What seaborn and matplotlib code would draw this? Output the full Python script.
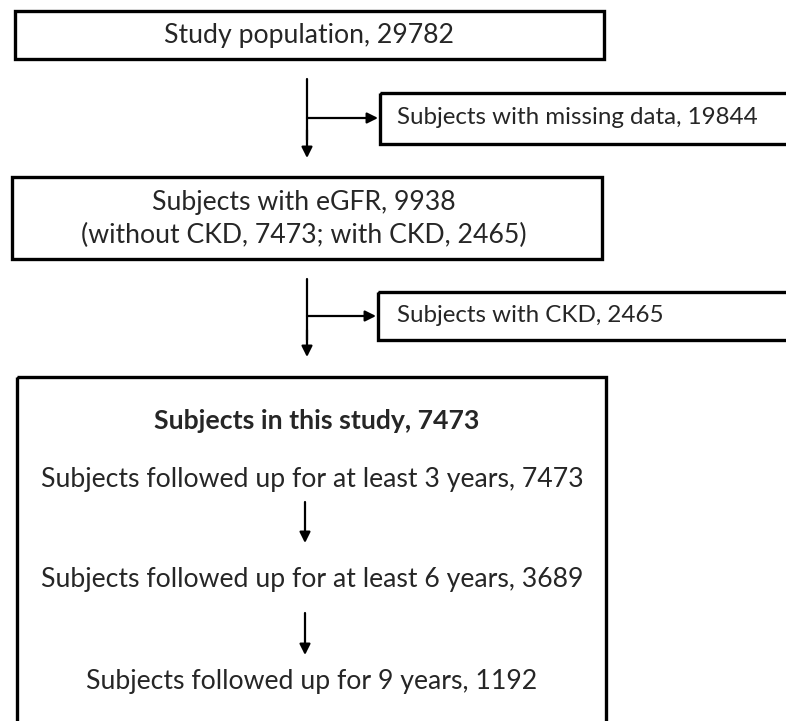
import matplotlib
matplotlib.use("Agg")
import matplotlib.pyplot as plt
from matplotlib.patches import Rectangle
import seaborn as sns

# flow chart content
main_steps = ["Study population, 29782",
              "Subjects with eGFR, 9938\n(without CKD, 7473; with CKD, 2465)"]
excluded = ["Subjects with missing data, 19844",
            "Subjects with CKD, 2465"]
final_title = "Subjects in this study, 7473"
follow_up = ["Subjects followed up for at least 3 years, 7473",
             "Subjects followed up for at least 6 years, 3689",
             "Subjects followed up for 9 years, 1192"]

sns.set_style("white")
plt.rcParams["font.family"] = ["Lato", "DejaVu Sans"]

FS = 19.2
FS_SIDE = 17.4
BOX_LW = 2.4
ARR = dict(arrowstyle="-|>", lw=1.6, color="black", mutation_scale=16,
           shrinkA=0, shrinkB=0)

fig = plt.figure(figsize=(7.86, 7.21), dpi=100)
ax = fig.add_axes([0, 0, 1, 1])
ax.set_xlim(0, 786)
ax.set_ylim(721, 0)
ax.axis("off")


def box(x0, y0, x1, y1):
    ax.add_patch(Rectangle((x0, y0), x1 - x0, y1 - y0, fill=False,
                           edgecolor="black", lw=BOX_LW, clip_on=True))


def arrow(x0, y0, x1, y1):
    ax.annotate("", xy=(x1, y1), xytext=(x0, y0), arrowprops=ARR)


# main boxes
box(15, 11, 604, 59)
ax.text(309, 35, main_steps[0], ha="center", va="center", fontsize=FS)

box(12, 177, 602, 259)
ax.text(304, 219, main_steps[1], ha="center", va="center", fontsize=FS,
        linespacing=1.35)

# exclusion boxes
box(380, 93, 800, 144)
ax.text(397, 118, excluded[0], ha="left", va="center", fontsize=FS_SIDE)

box(378, 292, 800, 340)
ax.text(397, 316, excluded[1], ha="left", va="center", fontsize=FS_SIDE)

# connectors
ax.plot([307, 307], [79, 140], color="black", lw=1.6)
arrow(307, 130, 307, 158)
arrow(307, 118, 378, 118)

ax.plot([307, 307], [279, 340], color="black", lw=1.6)
arrow(307, 330, 307, 357)
arrow(307, 316, 376, 316)

# final box
box(17, 377, 606, 740)
ax.text(317, 421, final_title, ha="center", va="center", fontsize=FS,
        fontweight="bold")
ys = [479, 580, 682]
for t, y in zip(follow_up, ys):
    ax.text(312, y, t, ha="center", va="center", fontsize=FS)
arrow(305, 502, 305, 543)
arrow(305, 613, 305, 655)

fig.savefig("out.png", dpi=100)
